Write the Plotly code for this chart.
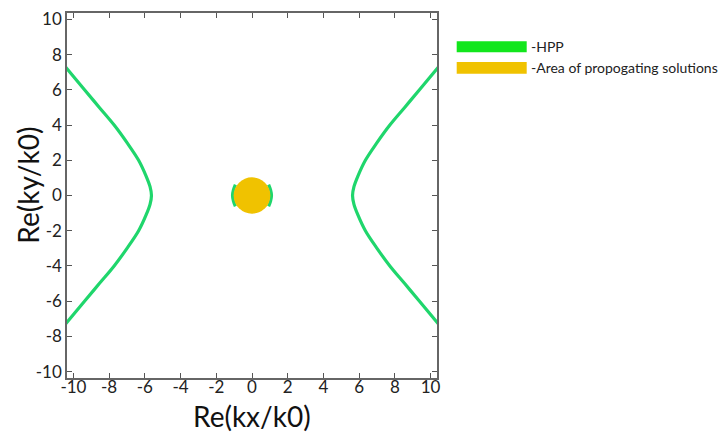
import plotly.graph_objects as go

# ---- data ----
hpp_left_kx = [-10.5, -9.38, -8.55, -7.72, -7.0, -6.35, -5.93, -5.71, -5.63,
               -5.71, -5.93, -6.35, -7.0, -7.72, -8.55, -9.38, -10.5]
hpp_left_ky = [7.36, 6.0, 5.0, 4.0, 3.0, 2.0, 1.1, 0.5, 0.0,
               -0.5, -1.1, -2.0, -3.0, -4.0, -5.0, -6.0, -7.36]
hpp_right_kx = [10.5, 9.38, 8.55, 7.72, 7.0, 6.35, 5.93, 5.71, 5.63,
                5.71, 5.93, 6.35, 7.0, 7.72, 8.55, 9.38, 10.5]
hpp_right_ky = [7.36, 6.0, 5.0, 4.0, 3.0, 2.0, 1.1, 0.5, 0.0,
                -0.5, -1.1, -2.0, -3.0, -4.0, -5.0, -6.0, -7.36]
inner_left_kx = [-0.93, -1.04, -1.09, -1.04, -0.93]
inner_left_ky = [-0.62, -0.32, 0.0, 0.32, 0.62]
inner_right_kx = [0.93, 1.04, 1.09, 1.04, 0.93]
inner_right_ky = [-0.62, -0.32, 0.0, 0.32, 0.62]
prop_radius = 1.03
tick_vals = [-10, -8, -6, -4, -2, 0, 2, 4, 6, 8, 10]
tick_text = [str(v) for v in tick_vals]
legend_labels = ["-HPP", "-Area of propogating solutions"]

CURVE = "#1fd66c"
LEG_GREEN = "#12e61c"
YELLOW = "#f0c200"
FONT = "Lato"

fig = go.Figure()
for xs, ys in [(hpp_left_kx, hpp_left_ky), (hpp_right_kx, hpp_right_ky),
               (inner_left_kx, inner_left_ky), (inner_right_kx, inner_right_ky)]:
    fig.add_trace(go.Scatter(x=xs, y=ys, mode="lines",
                             line=dict(color=CURVE, width=3.2, shape="spline", smoothing=1.0),
                             showlegend=False, hoverinfo="skip"))

# area of propagating solutions (disk)
fig.add_shape(type="circle", xref="x", yref="y",
              x0=-prop_radius, x1=prop_radius, y0=-prop_radius, y1=prop_radius,
              fillcolor=YELLOW, line=dict(width=0), layer="above")

axis_common = dict(
    tickvals=tick_vals, ticktext=tick_text,
    ticks="inside", ticklen=5, tickwidth=1, tickcolor="#555",
    showline=True, linecolor="#666", linewidth=1.5, mirror="ticks",
    showgrid=False, zeroline=False,
    tickfont=dict(family=FONT, size=17, color="#222"),
)
fig.update_xaxes(range=[-10.36, 10.36], ticklabelstandoff=-7, **axis_common)
fig.update_yaxes(range=[-10.36, 10.36], **axis_common)

# legend drawn manually (paper coordinates)
L, T, W, H = 67, 8, 370, 370
def px(x):
    return (x - L) / W
def py(y):
    return (T + H - y) / H

leg_colors = [LEG_GREEN, YELLOW]
leg_rows = [(36.7, 47.7), (57.7, 69.5)]
for (y0, y1), col, lab in zip(leg_rows, leg_colors, legend_labels):
    fig.add_shape(type="rect", xref="paper", yref="paper",
                  x0=px(456.7), x1=px(526.7), y0=py(y1), y1=py(y0),
                  fillcolor=col, line=dict(width=0))
    fig.add_annotation(xref="paper", yref="paper", x=px(529), y=py((y0 + y1) / 2),
                       xanchor="left", yanchor="middle", showarrow=False,
                       text=lab, font=dict(family=FONT, size=14, color="#222"))

# axis titles
fig.add_annotation(xref="paper", yref="paper", x=0.5, y=py(417),
                   xanchor="center", yanchor="middle", showarrow=False,
                   text="Re(kx/k0)", font=dict(family=FONT, size=28, color="#111"))
fig.add_annotation(xref="paper", yref="paper", x=px(28), y=py(183),
                   xanchor="center", yanchor="middle", showarrow=False, textangle=-90,
                   text="Re(ky/k0)", font=dict(family=FONT, size=28, color="#111"))

fig.update_layout(
    width=727, height=436,
    margin=dict(l=L, r=727 - L - W, t=T, b=436 - T - H),
    plot_bgcolor="white", paper_bgcolor="white",
    showlegend=False,
)
fig.write_html("out.html")
